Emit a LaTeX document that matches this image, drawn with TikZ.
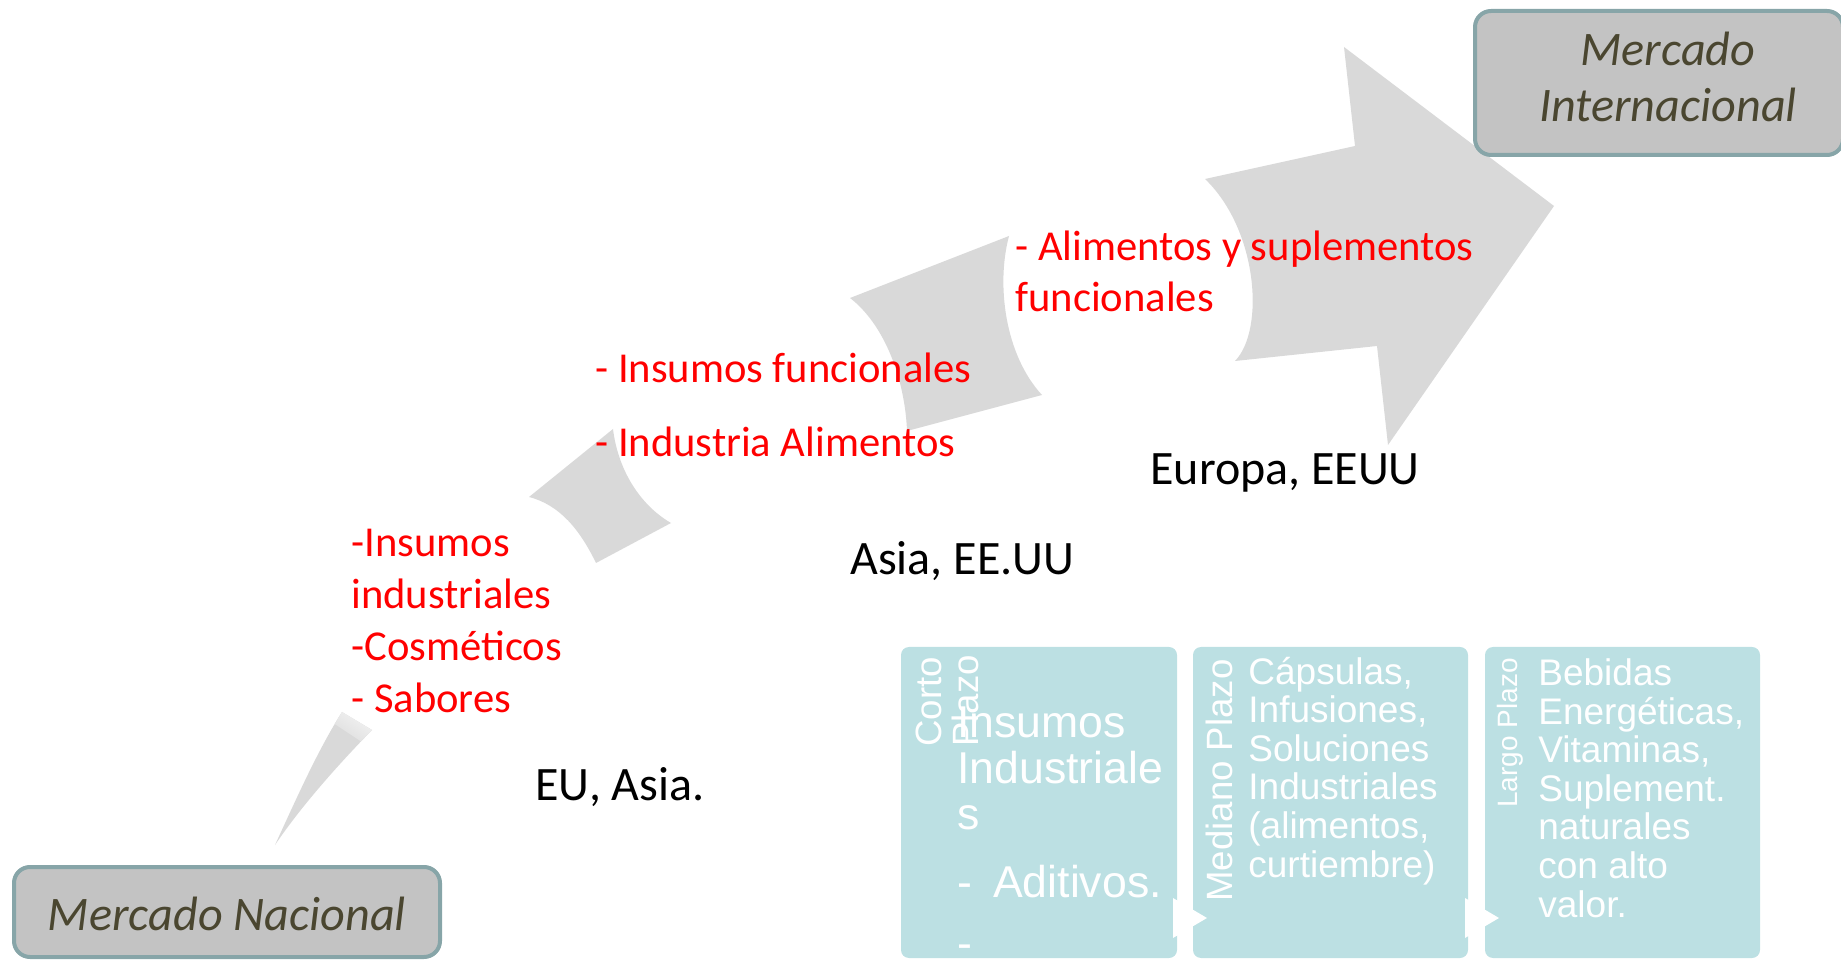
\documentclass[tikz,border=0pt]{standalone}
\usepackage{fontspec}
\setmainfont{Carlito}
\newfontfamily\arialfont{Liberation Sans}

\definecolor{arrowgrey}{HTML}{D9D9D9}
\definecolor{boxgrey}{HTML}{C3C3C3}
\definecolor{boxedge}{HTML}{87A5A8}
\definecolor{boxtext}{HTML}{4A4630}
\definecolor{plazoblue}{HTML}{BCE0E3}

\begin{document}
\begin{tikzpicture}[x=0.5pt,y=-0.5pt,
  redtxt/.style={text=red, inner sep=0pt, anchor=base west, align=left,
    font=\fontsize{21.3pt}{25.85pt}\selectfont},
  blacktxt/.style={inner sep=0pt, anchor=base west,
    font=\fontsize{24pt}{28pt}\selectfont},
  market/.style={draw=boxedge, line width=2pt, fill=boxgrey, rounded corners=8pt},
  markettxt/.style={text=boxtext, align=center, inner sep=0pt,
    font=\itshape\fontsize{24.1pt}{28pt}\selectfont},
  plazobox/.style={fill=plazoblue, rounded corners=4pt, inner sep=0pt},
  plazolbl/.style={text=white, inner sep=0pt, anchor=base west, rotate=90, align=left,
    font=\arialfont\fontsize{18.3pt}{18.5pt}\selectfont},
  plazotxt/.style={text=white, inner sep=0pt, anchor=base west, align=left,
    font=\arialfont\fontsize{18.5pt}{19.3pt}\selectfont}]

\useasboundingbox (0,0) rectangle (1841,961);

% curved arrow, made of four pieces
\begin{scope}
\clip (275,845) .. controls (298,795) and (318,750) .. (342,712) -- (372,730)
  .. controls (335,768) and (300,808) .. (275,845) -- cycle;
\fill[arrowgrey] (250,700) rectangle (400,860);
\shade[top color=white, bottom color=arrowgrey, shading angle=-33.5]
  (339,694) -- (389,727) -- (374,750) -- (324,717) -- cycle;
\end{scope}

\fill[arrowgrey] (529,497) -- (613,429) .. controls (618,470) and (640,505) .. (671,523)
  -- (596,563) .. controls (580,530) and (560,505) .. (529,497) -- cycle;

\fill[arrowgrey] (850,298) -- (1009,236) .. controls (996,285) and (1005,355) .. (1042,395)
  -- (907,431) .. controls (905,380) and (885,325) .. (850,298) -- cycle;

\fill[arrowgrey] (1205,179) -- (1355,146) -- (1344,47) -- (1554,206) -- (1388,445)
  -- (1377,346) -- (1235,361) .. controls (1265,330) and (1258,230) .. (1205,179) -- cycle;

% markets
\node[market, minimum width=213pt, minimum height=45pt] (nacional) at (227,912) {};
\node[markettxt] (nacionaltxt) at (227,914) {Mercado Nacional};
\node[market, minimum width=184pt, minimum height=72pt] (internacional) at (1659,83) {};
\node[markettxt] (internacionaltxt) at (1668,77) {Mercado\\Internacional};

% products along the arrow (multi-line nodes sit on their last line)
\node[redtxt] (prodA) at (351,712) {-Insumos\\industriales\\-Cosméticos\\- Sabores};
\node[redtxt] (prodB) at (595,457) {- Insumos funcionales\\[11.6pt]- Industria Alimentos};
\node[redtxt] (prodC) at (1015,312) {- Alimentos y suplementos\\funcionales};

% destinations
\node[blacktxt] (destA) at (535,800) {EU, Asia.};
\node[blacktxt] (destB) at (850,575) {Asia, EE.UU};
\node[blacktxt] (destC) at (1150,485) {Europa, EEUU};

% plazos
\node[plazobox, minimum width=138pt, minimum height=155.5pt] (corto) at (1039,802.5) {};
\node[plazobox, minimum width=137.5pt, minimum height=155.5pt] (mediano) at (1330.5,802.5) {};
\node[plazobox, minimum width=137.5pt, minimum height=155.5pt] (largo) at (1622.5,802.5) {};

\fill[white] (1173,898) -- (1207,918) -- (1173,938) -- cycle;
\fill[white] (1465,898) -- (1499,918) -- (1465,938) -- cycle;

\node[plazolbl] (cortolbl) at (978,747) {Corto\\Plazo};
\node[plazolbl] (medianolbl) at (1232,902) {Mediano Plazo};
\node[plazolbl, font=\arialfont\fontsize{14pt}{15pt}\selectfont] (largolbl) at (1517,808) {Largo Plazo};

\node[plazotxt, font=\arialfont\fontsize{22.3pt}{23pt}\selectfont] (cortotxt) at (957,829)
  {Insumos\\Industriale\\s};
\node[plazotxt, font=\arialfont\fontsize{22.3pt}{23pt}\selectfont] (cortolist) at (957,958)
  {-\hspace{10.5pt}Aditivos.\\[7.5pt]-};
\node[plazotxt] (medianotxt) at (1248,877)
  {Cápsulas,\\Infusiones,\\Soluciones\\Industriales\\(alimentos,\\curtiembre)};
\node[plazotxt] (largotxt) at (1538,917)
  {Bebidas\\Energéticas,\\Vitaminas,\\Suplement.\\naturales\\con alto\\valor.};

\end{tikzpicture}
\end{document}
